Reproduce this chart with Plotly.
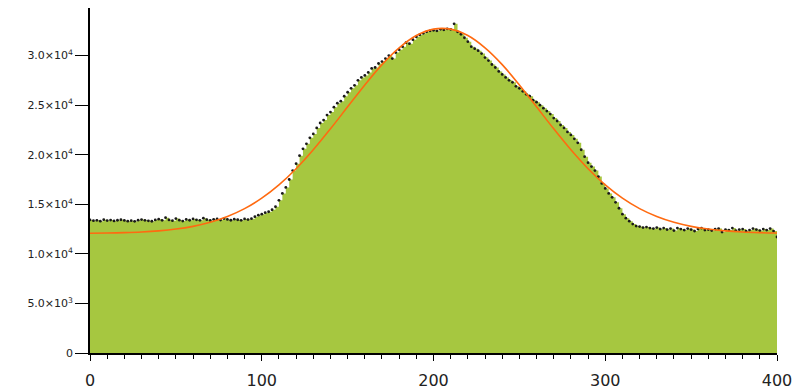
import plotly.graph_objects as go

# x positions of the measured points (every 2 units from 0 to 400)
x_values = list(range(0, 401, 2))

counts = [
    13420, 13350, 13380, 13300, 13450, 13360, 13410, 13320, 13390, 13440,
    13370, 13300, 13350, 13280, 13400, 13460, 13380, 13330, 13290, 13420,
    13500, 13380, 13650, 13420, 13350, 13560, 13400, 13310, 13470, 13390,
    13520, 13430, 13380, 13600, 13450, 13370, 13480, 13520, 13410, 13560,
    13470, 13390, 13500, 13440, 13380, 13520, 13460, 13550,
    13750, 13900, 14000, 14150, 14250, 14450, 14750, 15400, 16100, 16700,
    17500, 18400, 19100, 19900, 20600, 21100, 21700, 22100,
    22700, 23200, 23500, 24000, 24300, 24800, 25200, 25400, 25900, 26300,
    26700, 27000, 27500, 27800, 28000, 28300, 28700, 28800, 29200, 29400,
    29700, 30000, 29700, 30300, 30600, 30900, 31300, 31200, 31600, 31900,
    32100, 32250, 32400, 32500, 32550,
    32500, 32650, 32600, 32700, 32650, 33200, 32400, 32150, 31800, 31400,
    30900, 30700, 30500, 30200, 29800, 29500, 29100, 28800, 28400, 28100,
    27800, 27500, 27300, 26900, 26700, 26400, 26100, 25900, 25500, 25300,
    25000, 24700, 24400, 24100, 23700, 23400, 23000, 22700, 22300, 22000,
    21600, 21200, 20500, 19800, 19200, 18800, 18400, 17800, 17100, 16600,
    16100, 15700, 15200, 14600, 14000, 13600, 13300, 13000, 12800, 12750,
    12650, 12700, 12600, 12550, 12650,
    12500, 12600, 12450, 12550, 12350, 12600, 12500, 12400, 12550, 12450,
    12300, 12500, 12600, 12400, 12450, 12350, 12500, 12550, 12200, 12450,
    12400, 12600, 12350, 12450, 12500, 12300, 12400, 12550, 12450, 12350,
    12500, 12400, 12550, 12300, 11700,
]

# fitted curve values (every 10 units)
fit_x = list(range(0, 401, 10))
fit_y = [
    12075, 12100, 12140, 12205, 12320, 12500, 12775, 13180, 13765, 14560,
    15620, 16960, 18590, 20500, 22610, 24830, 27040, 29090, 30780, 32020,
    32670, 32670, 32020, 30780, 29090, 27040, 24830, 22610, 20500, 18590,
    16960, 15620, 14560, 13765, 13180, 12775, 12500, 12320, 12205, 12140,
    12100,
]

y_tickvals = [0, 5000, 10000, 15000, 20000, 25000, 30000]
y_ticktext = ["0", "5.0×10<sup>3</sup>", "1.0×10<sup>4</sup>", "1.5×10<sup>4</sup>",
              "2.0×10<sup>4</sup>", "2.5×10<sup>4</sup>", "3.0×10<sup>4</sup>"]
x_tickvals = [0, 100, 200, 300, 400]

GREEN = "#A6C740"
ORANGE = "#FF6A10"

fig = go.Figure()
fig.add_trace(go.Scatter(
    x=x_values, y=counts, mode="lines", line=dict(shape="hv", width=0, color=GREEN),
    fill="tozeroy", fillcolor=GREEN, hoverinfo="skip", showlegend=False))
fig.add_trace(go.Scatter(
    x=x_values, y=counts, mode="markers",
    marker=dict(size=2.8, color="#1a1a1a"), showlegend=False))
fig.add_trace(go.Scatter(
    x=fit_x, y=fit_y, mode="lines", line=dict(color=ORANGE, width=1.6, shape="spline"),
    showlegend=False))

# the page body adds an 8px offset, so the figure is sized to fit the window
fig.update_layout(
    width=796, height=381,
    margin=dict(l=82, r=27, t=0, b=36, autoexpand=False),
    paper_bgcolor="white", plot_bgcolor="white",
    font=dict(family="DejaVu Sans, Arial, sans-serif", color="#222"),
)
fig.update_xaxes(
    range=[0, 400], tickvals=x_tickvals, ticks="outside", ticklen=6, tickwidth=1.3,
    tickcolor="black", showline=True, linecolor="black", linewidth=1.6,
    showgrid=False, zeroline=False, tickfont=dict(size=16), ticklabelstandoff=6,
    minor=dict(dtick=10, ticks="outside", ticklen=4, tickcolor="black", showgrid=False),
)
fig.update_yaxes(
    range=[0, 34800], tickvals=y_tickvals, ticktext=y_ticktext, ticks="outside",
    ticklen=13, tickwidth=1.3, tickcolor="black", showline=True, linecolor="black",
    linewidth=1.6, showgrid=False, zeroline=False, tickfont=dict(size=11),
)

fig.write_html("out.html")
